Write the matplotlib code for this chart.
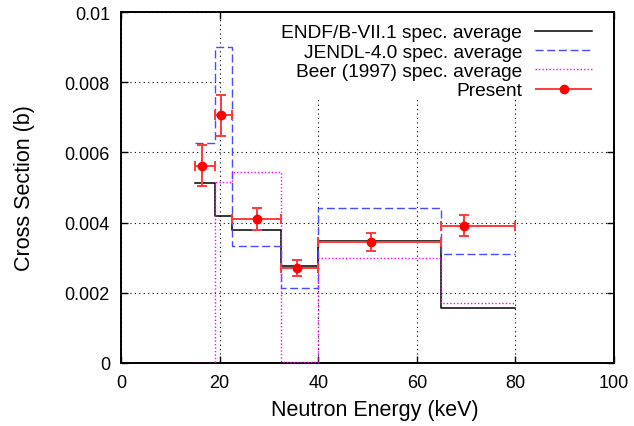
import numpy as np
import matplotlib
matplotlib.use("Agg")
import matplotlib.pyplot as plt
from matplotlib.legend_handler import HandlerErrorbar
from matplotlib.container import ErrorbarContainer
from matplotlib.patches import Rectangle

plt.rcParams['font.family'] = ['Liberation Sans', 'DejaVu Sans']

# bin edges (keV)
edges = [15, 19, 22.5, 32.5, 40, 65, 80]
# spectrum-averaged cross sections (b)
endf = [0.00514, 0.00420, 0.00378, 0.00275, 0.00347, 0.00157]
jendl = [0.00628, 0.00900, 0.00333, 0.00214, 0.00440, 0.00311]
beer = [0.0, 0.00516, 0.00543, 0.00001, 0.00299, 0.00170]

# present measurement
e_cent = [16.4, 20.3, 27.5, 35.6, 50.8, 69.5]
e_lo = [15, 19, 22.5, 32.5, 40, 65]
e_hi = [19, 22.5, 32.5, 40, 65, 80]
xs = [0.00562, 0.00706, 0.00409, 0.00271, 0.00345, 0.00391]
xs_err = [0.00058, 0.00058, 0.00031, 0.00023, 0.00026, 0.00030]


def steps(vals):
    return np.append(vals, vals[-1])


fig = plt.figure(figsize=(6.34, 4.27), dpi=100)
ax = fig.add_axes([0.1909, 0.1487, 0.7776, 0.8197])

ax.step(edges, steps(endf), where='post', color='black', lw=1.1,
        label='ENDF/B-VII.1 spec. average', zorder=3)
ax.step(edges, steps(jendl), where='post', color='#4a4aff', lw=1.0,
        ls=(0, (5.8, 2.6)), label='JENDL-4.0 spec. average', zorder=3)
ax.step(edges, steps(beer), where='post', color='#ff00ff', lw=1.0,
        ls=(0, (1, 1.5)), label='Beer (1997) spec. average', zorder=3)

err_style = dict(fmt='o', color='#ff0000', ecolor='#ff3a3a', elinewidth=1.4,
                 capsize=3.5, capthick=1.4, ms=6)
xerr = [np.subtract(e_cent, e_lo), np.subtract(e_hi, e_cent)]
ax.errorbar(e_cent, xs, xerr=xerr, yerr=xs_err, zorder=4, **err_style)
# proxy for the legend: horizontal bar only
ax.errorbar([], [], xerr=[], label='Present', **err_style)

ax.set_xlim(0, 100)
ax.set_ylim(0, 0.01)
ax.set_xticks(np.arange(0, 101, 20))
ax.set_yticks(np.arange(0, 0.0101, 0.002))
ax.yaxis.set_major_formatter(plt.FuncFormatter(lambda v, p: f'{round(v, 4):g}'))
ax.tick_params(direction='in', length=5, width=1, top=True, right=True,
               labelsize=13, pad=8)
for s in ax.spines.values():
    s.set_linewidth(1.4)

ax.grid(True, color='black', ls=(0, (1, 3)), lw=0.8)
ax.set_axisbelow(True)

# white key area hiding the grid, as in the original
ax.add_patch(Rectangle((0.209, 0.759), 0.791, 0.241, transform=ax.transAxes,
                       fc='white', ec='none', zorder=1))

ax.set_xlabel('Neutron Energy (keV)', fontsize=15.5)
ax.set_ylabel('Cross Section (b)', fontsize=15.5)
ax.xaxis.set_label_coords(0.515, -0.104)
ax.yaxis.set_label_coords(-0.175, 0.5)

handles, labels = ax.get_legend_handles_labels()
leg = ax.legend(handles, labels, loc='upper right',
                bbox_to_anchor=(0.967, 0.984), borderaxespad=0,
                markerfirst=False, fontsize=13.8, handlelength=2.95,
                handletextpad=0.7, labelspacing=0.1, borderpad=0.3,
                frameon=False,
                handler_map={ErrorbarContainer: HandlerErrorbar(xerr_size=1.5)})
leg.set_zorder(5)

fig.savefig('out.png', dpi=100)
